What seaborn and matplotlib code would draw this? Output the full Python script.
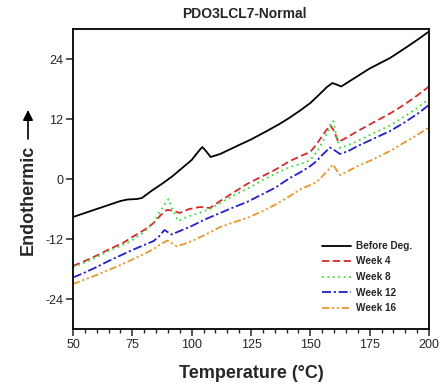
import numpy as np
import pandas as pd
import matplotlib
matplotlib.use("Agg")
import matplotlib.pyplot as plt
import seaborn as sns

series_names = ["Before Deg.", "Week 4", "Week 8", "Week 12", "Week 16"]

before_t = [50, 55, 60, 65, 70, 73, 77, 79, 83, 88, 92, 96, 100, 103, 104.5, 106, 108, 112, 120, 125,
            131.7, 137, 141.4, 146, 150, 154, 157, 159.3, 161, 163, 170, 175, 183.6, 190, 195, 200]
before_v = [-7.6, -6.8, -6.0, -5.2, -4.4, -4.1, -4.0, -3.8, -2.4, -0.8, 0.6, 2.2, 3.8, 5.6, 6.4, 5.6, 4.4, 5.0, 6.8, 7.9,
            9.6, 11.0, 12.3, 13.8, 15.2, 17.0, 18.4, 19.2, 18.9, 18.5, 20.6, 22.1, 24.2, 26.2, 27.8, 29.5]

w4_t = [50, 55, 60, 65, 71, 75, 80, 84, 87, 89.5, 92, 95, 99, 103.5, 107.7, 112, 118, 123.3, 130, 135,
        141.4, 146, 150, 152.7, 155, 158.3, 160, 161.8, 165, 170, 175, 183.6, 190, 195, 200]
w4_v = [-17.4, -16.4, -15.3, -14.1, -12.8, -11.6, -10.2, -8.8, -7.2, -6.2, -6.3, -6.8, -6.0, -5.6, -5.8, -4.4, -2.6, -1.0, 0.6, 1.8,
        3.6, 4.6, 5.4, 7.0, 8.6, 10.8, 9.6, 7.4, 8.2, 9.6, 10.9, 13.1, 15.0, 16.7, 18.5]

w8_t = [50, 55, 60, 65, 71, 75, 80, 84, 87, 90.3, 92, 94.3, 98, 103, 107.7, 112, 118, 123.3, 130, 135,
        141.4, 146, 150, 153, 156, 159.7, 161, 162.5, 166, 170, 175, 183.6, 190, 195, 200]
w8_v = [-17.6, -16.7, -15.6, -14.4, -13.2, -12.2, -10.6, -8.6, -6.2, -4.0, -6.2, -8.4, -7.6, -6.8, -6.0, -4.8, -3.2, -2.0, -0.2, 1.0,
        2.4, 3.0, 3.8, 5.6, 8.2, 11.6, 8.5, 6.2, 6.8, 7.6, 8.8, 10.7, 12.6, 14.2, 16.0]

w12_t = [50, 55, 60, 65, 70, 75, 80, 84, 86, 88.5, 91.6, 95, 100, 106, 112, 118, 123.3, 130, 135,
         141.4, 146, 150, 152.7, 155, 158.3, 160, 162.5, 166, 170, 175, 183.6, 190, 195, 200]
w12_v = [-19.7, -18.7, -17.6, -16.4, -15.3, -14.2, -13.2, -12.4, -11.6, -10.2, -11.1, -10.4, -9.4, -8.0, -6.8, -5.6, -4.6, -3.0, -1.8,
         0.2, 1.4, 2.6, 3.6, 4.8, 6.3, 5.8, 5.0, 5.6, 6.6, 7.7, 9.6, 11.4, 13.0, 14.8]

w16_t = [50, 55, 60, 65, 70, 75, 80, 84, 87, 89.8, 93.5, 97, 102, 108, 112, 117.5, 123.3, 130, 135,
         141.4, 146, 150, 152.7, 156, 159.6, 161, 162.5, 166, 170, 175, 183.6, 190, 195, 200]
w16_v = [-21.0, -20.1, -19.2, -18.2, -17.2, -16.1, -15.0, -14.0, -13.0, -12.3, -13.4, -13.0, -12.0, -10.6, -9.6, -8.7, -7.8, -6.4, -5.2,
         -3.4, -2.0, -1.2, -0.6, 1.0, 2.9, 1.8, 0.8, 1.6, 2.6, 3.6, 5.6, 7.4, 8.8, 10.3]

x_ticks = [50, 75, 100, 125, 150, 175, 200]
y_ticks = [-24, -12, 0, 12, 24]

frames = []
for name, t, v in zip(series_names,
                      [before_t, w4_t, w8_t, w12_t, w16_t],
                      [before_v, w4_v, w8_v, w12_v, w16_v]):
    frames.append(pd.DataFrame({"Temperature": t, "Heat Flow": v, "Sample": name}))
df = pd.concat(frames, ignore_index=True)

sns.set_style("white")
plt.rcParams["font.family"] = ["Liberation Sans", "DejaVu Sans"]
plt.rcParams["axes.unicode_minus"] = False

palette = {"Before Deg.": "#000000", "Week 4": "#d42a2a", "Week 8": "#3ddc3d",
           "Week 12": "#2020c8", "Week 16": "#e8962e"}
dashes = {"Before Deg.": "", "Week 4": (4, 2), "Week 8": (1, 2),
          "Week 12": (5, 1.5, 1.2, 1.5), "Week 16": (4, 1.5, 1.2, 1.5, 1.2, 1.5)}

fig = plt.figure(figsize=(4.42, 3.89), dpi=100)
ax = fig.add_axes([73 / 442, 1 - 329 / 389, 356 / 442, 300 / 389])

sns.lineplot(data=df, x="Temperature", y="Heat Flow", hue="Sample", style="Sample",
             palette=palette, dashes=dashes, sort=False, linewidth=1.3, ax=ax,
             hue_order=series_names, style_order=series_names)

ax.set_xlim(50, 200)
ax.set_ylim(-30, 30)
ax.set_xticks(x_ticks)
ax.set_yticks(y_ticks)
ax.set_xticks(np.arange(50, 201, 5), minor=True)
ax.tick_params(axis="both", which="major", direction="out", length=5, width=1.1,
               labelsize=9, bottom=True, left=True, top=False, right=False, pad=2)
ax.tick_params(axis="x", which="minor", direction="out", length=3, width=1.0, bottom=True)
for s in ax.spines.values():
    s.set_color("black")
    s.set_linewidth(1.3)

ax.set_title("PDO3LCL7-Normal", fontsize=10, fontweight="bold", pad=8, x=0.48)
ax.set_xlabel("Temperature (°C)", fontsize=13, fontweight="bold", labelpad=10)
ax.set_ylabel("")
fig.text(28 / 442, 1 - 200 / 389, "Endothermic", rotation=90, fontsize=13, fontweight="bold",
         ha="center", va="center")
fig.patches.append(matplotlib.patches.FancyArrowPatch(
    (28 / 442, 1 - 139 / 389), (28 / 442, 1 - 110 / 389), transform=fig.transFigure,
    arrowstyle="-|>,head_length=6,head_width=3", color="black", linewidth=1.2,
    mutation_scale=1, shrinkA=0, shrinkB=0))

handles, labels = ax.get_legend_handles_labels()
leg = ax.legend(handles, labels, loc="lower right", bbox_to_anchor=(0.965, 0.04),
                frameon=False, fontsize=7.2, handlelength=2.9, handletextpad=0.5,
                labelspacing=0.55, borderaxespad=0)
for txt in leg.get_texts():
    txt.set_fontweight("bold")

fig.savefig("out.png", dpi=100)
